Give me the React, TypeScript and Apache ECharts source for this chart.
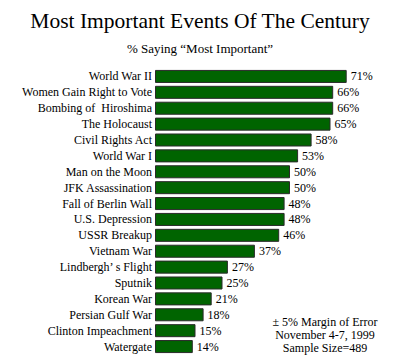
import React, { useEffect, useRef } from "react";
import * as echarts from "echarts";

const categories = [
  "World War II",
  "Women Gain Right to Vote",
  "Bombing of  Hiroshima",
  "The Holocaust",
  "Civil Rights Act",
  "World War I",
  "Man on the Moon",
  "JFK Assassination",
  "Fall of Berlin Wall",
  "U.S. Depression",
  "USSR Breakup",
  "Vietnam War",
  "Lindbergh\u2019 s Flight",
  "Sputnik",
  "Korean War",
  "Persian Gulf War",
  "Clinton Impeachment",
  "Watergate",
];
const values = [71, 66, 66, 65, 58, 53, 50, 50, 48, 48, 46, 37, 27, 25, 21, 18, 15, 14];
const titleText = "Most Important Events Of The Century";
const subtitleText = "% Saying \u201cMost Important\u201d";
const noteLines = ["\u00b1 5% Margin of Error", "November 4-7, 1999", "Sample Size=489"];

const FONT = "Liberation Serif";

export default function App() {
  const ref = useRef<HTMLDivElement>(null);
  useEffect(() => {
    if (!ref.current) return;
    const chart = echarts.init(ref.current, undefined, { renderer: "svg" });
    chart.setOption({
      animation: false,
      backgroundColor: "#ffffff",
      textStyle: { fontFamily: FONT },
      title: [
        {
          text: titleText,
          left: "center",
          top: 5,
          textStyle: { fontFamily: FONT, fontSize: 21.5, fontWeight: "normal", color: "#000" },
        },
        {
          text: subtitleText,
          left: "center",
          top: 37,
          textStyle: { fontFamily: FONT, fontSize: 13, fontWeight: "normal", color: "#000" },
        },
      ],
      grid: { left: 155, right: 29, top: 68.5, bottom: 7.5, containLabel: false },
      xAxis: {
        type: "value",
        min: 0,
        max: 80,
        show: false,
      },
      yAxis: {
        type: "category",
        data: categories,
        inverse: true,
        axisLine: { show: false },
        axisTick: { show: false },
        axisLabel: { interval: 0, fontFamily: FONT, fontSize: 12, color: "#000", margin: 3 },
      },
      series: [
        {
          type: "bar",
          data: values,
          barCategoryGap: "18%",
          itemStyle: { color: "#006400", borderColor: "#2a2a2a", borderWidth: 1 },
          label: {
            show: true,
            position: "right",
            distance: 4,
            formatter: "{c}%",
            fontFamily: FONT,
            fontSize: 12,
            color: "#000",
          },
        },
      ],
      graphic: [
        {
          type: "text",
          x: 325,
          y: 315,
          style: {
            text: noteLines.join("\n"),
            align: "center",
            verticalAlign: "top",
            fontFamily: FONT,
            fontSize: 12,
            lineHeight: 13,
            fill: "#000",
          },
        } as any,
      ],
    });
    return () => chart.dispose();
  }, []);
  return <div ref={ref} style={{ width: 400, height: 362, position: "absolute", left: 0, top: 0 }} />;
}
